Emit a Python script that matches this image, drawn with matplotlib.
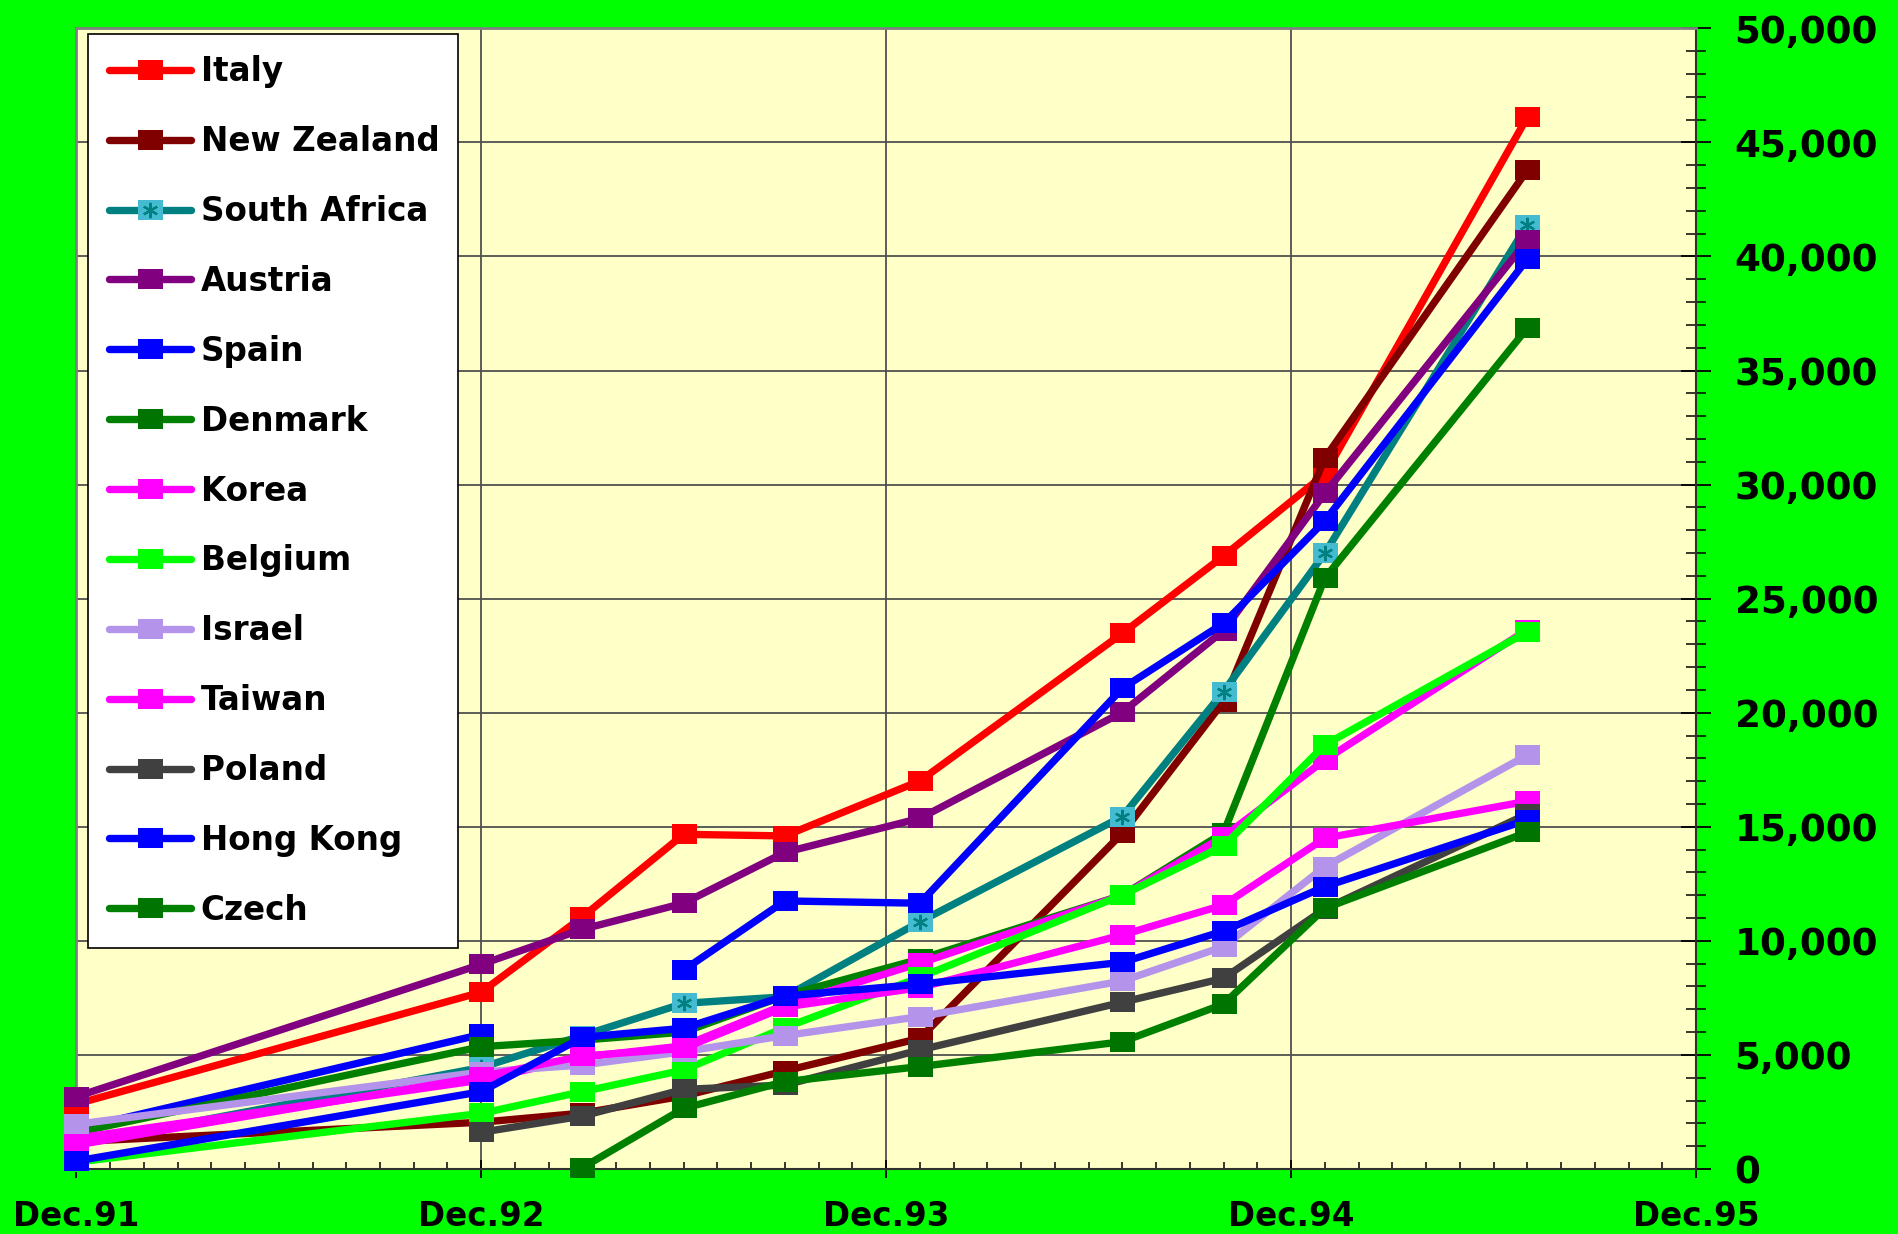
import numpy as np
import matplotlib.pyplot as plt
from matplotlib.legend_handler import HandlerTuple
from matplotlib.ticker import MultipleLocator, FuncFormatter

plt.rcParams['font.weight'] = 'bold'

nan = np.nan

# survey dates, counted in months after Dec.91
months = [0, 12, 15, 18, 21, 25, 31, 34, 37, 43]
year_ticks = [0, 12, 24, 36, 48]
year_labels = ['Dec.91', 'Dec.92', 'Dec.93', 'Dec.94', 'Dec.95']

italy = [2850, 7750, 11050, 14670, 14600, 17010, 23480, 26870, 30460, 46100]
new_zealand = [1200, 2050, 2450, 3200, 4300, 5730, 14720, 20490, 31160, 43780]
south_africa = [1100, 4450, 5850, 7260, 7550, 10840, 15450, 20930, 26990, 41390]
austria = [3170, 8970, 10510, 11650, 13880, 15370, 20020, 23600, 29620, 40700]
spain = [1750, 5900, nan, 8720, 11750, 11650, 21070, 23920, 28410, 39880]
denmark = [1600, 5360, 5650, 6000, 7600, 9200, 12000, 14740, 25900, 36860]
korea = [1350, 3900, 4900, 5400, 7200, 9020, 12000, 14570, 17930, 23640]
belgium = [300, 2440, 3390, 4340, 6200, 8400, 12010, 14160, 18590, 23550]
israel = [1960, 4250, 4560, 5140, 5850, 6680, 8240, 9750, 13250, 18140]
taiwan = [1050, 4050, 4950, 5290, 7100, 7950, 10260, 11570, 14500, 16120]
poland = [nan, 1610, 2320, 3490, 3680, 5220, 7310, 8360, 11400, 15560]
hong_kong = [350, 3390, 5770, 6170, 7580, 8100, 9060, 10430, 12380, 15300]
czech = [nan, nan, 60, 2660, 3830, 4490, 5580, 7230, 11430, 14760]

names = ['Italy', 'New Zealand', 'South Africa', 'Austria', 'Spain', 'Denmark',
         'Korea', 'Belgium', 'Israel', 'Taiwan', 'Poland', 'Hong Kong', 'Czech']
series = [italy, new_zealand, south_africa, austria, spain, denmark,
          korea, belgium, israel, taiwan, poland, hong_kong, czech]
line_colors = ['#FF0000', '#800000', '#008080', '#800080', '#0000FF', '#008000',
               '#FF00FF', '#00FF00', '#B493EA', '#FF00FF', '#404040', '#0000FF', '#008000']
marker_colors = ['#FF0000', '#800000', '#44BBD0', '#800080', '#0000FF', '#007400',
                 '#FF00FF', '#00FF00', '#B493EA', '#FF00FF', '#404040', '#0000FF', '#007400']

# flat rectangle marker, wider than tall
rect = [(-1.25, -1.0), (1.25, -1.0), (1.25, 1.0), (-1.25, 1.0), (-1.25, -1.0)]

fig = plt.figure(figsize=(18.99, 12.34), dpi=100, facecolor='#00FF00')
ax = fig.add_axes([76.3 / 1899, 1 - 1169 / 1234, (1696 - 76.3) / 1899, (1169 - 28.3) / 1234])
ax.set_facecolor('#FFFFC8')

handles = []
for i, (name, vals, lc, mc) in enumerate(zip(names, series, line_colors, marker_colors)):
    ln, = ax.plot(months, vals, color=lc, lw=5.3, solid_capstyle='round',
                  marker=rect, ms=18, mfc=mc, mew=0, clip_on=False, zorder=3 + i)
    if name == 'South Africa':
        star, = ax.plot(months, vals, ls='none', marker=(6, 2, 0), ms=11,
                        mec='#008080', mew=1.6, clip_on=False, zorder=3.5 + i)
        handles.append((ln, star))
    else:
        handles.append(ln)

ax.set_xlim(0, 48)
ax.set_ylim(0, 50000)

ax.set_xticks(year_ticks)
ax.set_xticklabels(year_labels)
ax.xaxis.set_minor_locator(MultipleLocator(1))
ax.tick_params(axis='x', which='major', direction='inout', length=13.5, width=1.3,
               pad=15.5, labelsize=23.5)
ax.tick_params(axis='x', which='minor', direction='in', length=5, width=1.1)

ax.yaxis.tick_right()
ax.yaxis.set_major_locator(MultipleLocator(5000))
ax.yaxis.set_minor_locator(MultipleLocator(1000))
ax.yaxis.set_major_formatter(FuncFormatter(lambda v, p: f'{v:,.0f}'))
ax.tick_params(axis='y', which='major', direction='inout', length=21.6, width=1.3,
               pad=17, labelsize=26.8, left=False, right=True)
ax.tick_params(axis='y', which='minor', direction='inout', length=14.4, width=1.1,
               left=False, right=True)

ax.grid(True, which='major', color='#505050', lw=1.3)
ax.set_axisbelow(True)

for side in ['top', 'left']:
    ax.spines[side].set_color('#808080')
    ax.spines[side].set_linewidth(2)
for side in ['right', 'bottom']:
    ax.spines[side].set_color('#303030')
    ax.spines[side].set_linewidth(1.5)

leg = ax.legend(handles, names, loc='upper left', mode='expand',
                bbox_to_anchor=(88 / 1899, 0.0, 370 / 1899, 1 - 34 / 1234),
                bbox_transform=fig.transFigure, borderaxespad=0,
                fontsize=23.5, handlelength=2.5, handletextpad=0.3,
                labelspacing=1.13, borderpad=0.65, numpoints=1,
                fancybox=False, framealpha=1, facecolor='white', edgecolor='black',
                handler_map={tuple: HandlerTuple(ndivide=1)})
leg.get_frame().set_linewidth(1.2)
leg.set_zorder(30)

fig.savefig('out.png', dpi=100, facecolor=fig.get_facecolor())
